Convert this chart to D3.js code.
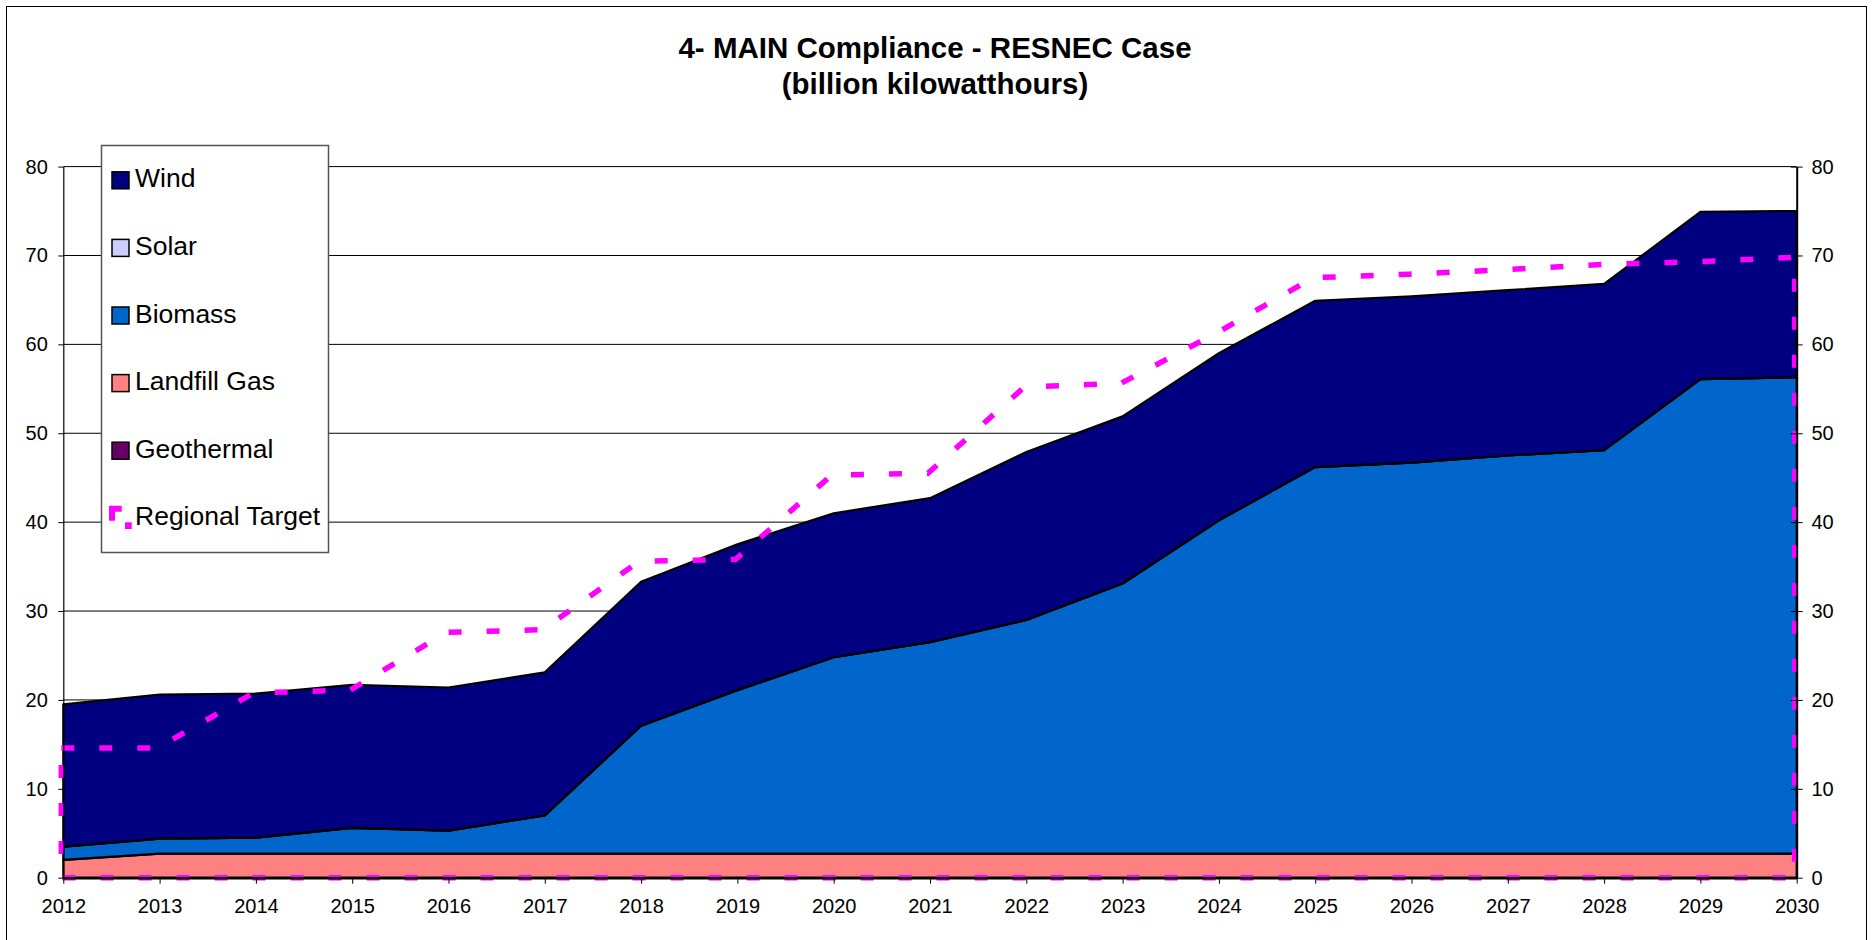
<!DOCTYPE html>
<html>
<head>
<meta charset="utf-8">
<script src="https://cdn.jsdelivr.net/npm/d3@7"></script>
<style>
  body { margin: 0; background: #fff; }
  svg { display: block; font-family: "Liberation Sans", Arial, sans-serif; }
</style>
</head>
<body>
<svg id="chart" width="1872" height="940"></svg>
<script>
// chart data
var years = [2012, 2013, 2014, 2015, 2016, 2017, 2018, 2019, 2020, 2021,
             2022, 2023, 2024, 2025, 2026, 2027, 2028, 2029, 2030];
var geothermal = [0, 0, 0, 0, 0, 0, 0, 0, 0, 0, 0, 0, 0, 0, 0, 0, 0, 0, 0];
var landfillGas = [2.0, 2.7, 2.7, 2.7, 2.7, 2.7, 2.7, 2.7, 2.7, 2.7,
                   2.7, 2.7, 2.7, 2.7, 2.7, 2.7, 2.7, 2.7, 2.7];
var biomass = [1.5, 1.7, 1.8, 2.9, 2.6, 4.3, 14.4, 18.4, 22.1, 23.8,
               26.3, 30.4, 37.5, 43.5, 44.0, 44.8, 45.4, 53.4, 53.6];
var solar = [0, 0, 0, 0, 0, 0, 0, 0, 0, 0, 0, 0, 0, 0, 0, 0, 0, 0, 0];
var wind = [16.0, 16.2, 16.2, 16.1, 16.1, 16.1, 16.2, 16.4, 16.2, 16.2,
            18.9, 18.8, 18.8, 18.7, 18.7, 18.6, 18.7, 18.8, 18.7];
var regionalTarget = [14.6, 14.6, 20.8, 21.1, 27.6, 27.9, 35.6, 35.8, 45.3, 45.5,
                      55.2, 55.6, 61.3, 67.5, 67.9, 68.4, 69.0, 69.3, 69.8];
var yTicks = [0, 10, 20, 30, 40, 50, 60, 70, 80];
var titleLines = ["4- MAIN Compliance - RESNEC Case", "(billion kilowatthours)"];

// stacking order bottom -> top, legend shows it the other way round
var seriesKeys = ["Geothermal", "Landfill Gas", "Biomass", "Solar", "Wind"];
var seriesValues = {
  "Geothermal": geothermal,
  "Landfill Gas": landfillGas,
  "Biomass": biomass,
  "Solar": solar,
  "Wind": wind
};
var colors = {
  "Wind": "#000080",
  "Solar": "#ccccff",
  "Biomass": "#0066cc",
  "Landfill Gas": "#ff8080",
  "Geothermal": "#660066"
};
var targetColor = "#ff00ff";

function draw() {
  var table = years.map(function(yr, i) {
    var row = { year: yr };
    seriesKeys.forEach(function(k) { row[k] = seriesValues[k][i]; });
    return row;
  });

  var svg = d3.select("#chart");

  var plotLeft = 63.3, plotRight = 1796.7, plotTop = 166.6, plotBottom = 877.7;

  var x = d3.scaleLinear().domain([2012, 2030]).range([plotLeft, plotRight]);
  var y = d3.scaleLinear().domain([0, 80]).range([plotBottom, plotTop]);

  // outer frame
  svg.append("rect")
    .attr("x", 0).attr("y", 0).attr("width", 1872).attr("height", 940)
    .attr("fill", "#fff");
  svg.append("rect")
    .attr("x", 6.5).attr("y", 6.5).attr("width", 1860).attr("height", 960)
    .attr("fill", "none").attr("stroke", "#000").attr("stroke-width", 1);

  // gridlines
  svg.append("g")
    .selectAll("line")
    .data(yTicks.filter(function(d) { return d > 0; }))
    .enter().append("line")
    .attr("x1", plotLeft).attr("x2", plotRight)
    .attr("y1", function(d) { return y(d); })
    .attr("y2", function(d) { return y(d); })
    .attr("stroke", "#000").attr("stroke-width", 1);

  // stacked areas
  var stacked = d3.stack().keys(seriesKeys)(table);

  var area = d3.area()
    .x(function(d) { return x(d.data.year); })
    .y0(function(d) { return y(d[0]); })
    .y1(function(d) { return y(d[1]); });

  svg.append("g")
    .selectAll("path")
    .data(stacked)
    .enter().append("path")
    .attr("d", area)
    .attr("fill", function(d) { return colors[d.key]; })
    .attr("stroke", "#000")
    .attr("stroke-width", 2.2)
    .attr("stroke-linejoin", "round");

  // regional target, drawn as an unfilled area with a dashed border
  var targetArea = d3.area()
    .x(function(d, i) { return x(years[i]); })
    .y0(y(0))
    .y1(function(d) { return y(d); });

  svg.append("path")
    .attr("d", targetArea(regionalTarget))
    .attr("fill", "none")
    .attr("stroke", targetColor)
    .attr("stroke-width", 5.5)
    .attr("stroke-dasharray", "13,25")
    .attr("transform", "translate(-2,0)");

  // left axis
  var yAxisL = svg.append("g")
    .attr("transform", "translate(" + plotLeft + ",0)")
    .call(d3.axisLeft(y).tickValues(yTicks).tickSize(5).tickSizeOuter(0));
  yAxisL.select(".domain").attr("stroke", "#000").attr("stroke-width", 1.2);
  yAxisL.selectAll(".tick line").attr("stroke", "#000");
  yAxisL.selectAll("text")
    .attr("x", -15.5)
    .attr("font-size", 20)
    .attr("font-family", "Liberation Sans, Arial, sans-serif")
    .attr("fill", "#000");

  // right axis, ticks cross the line
  var yAxisR = svg.append("g")
    .attr("transform", "translate(" + plotRight + ",0)")
    .call(d3.axisRight(y).tickValues(yTicks).tickSize(6).tickSizeOuter(0));
  yAxisR.select(".domain").attr("stroke", "#000").attr("stroke-width", 2);
  yAxisR.selectAll(".tick line").attr("x1", -6).attr("stroke", "#000");
  yAxisR.selectAll("text")
    .attr("x", 14.7)
    .attr("font-size", 20)
    .attr("font-family", "Liberation Sans, Arial, sans-serif")
    .attr("fill", "#000");

  // bottom axis
  var xAxis = svg.append("g")
    .attr("transform", "translate(0," + plotBottom + ")")
    .call(d3.axisBottom(x).tickValues(years).tickFormat(d3.format("d"))
      .tickSize(6).tickSizeOuter(0));
  xAxis.select(".domain").attr("stroke", "#000").attr("stroke-width", 2.5);
  xAxis.selectAll(".tick line").attr("stroke", "#000");
  xAxis.selectAll("text")
    .attr("y", 35)
    .attr("dy", 0)
    .attr("font-size", 20)
    .attr("font-family", "Liberation Sans, Arial, sans-serif")
    .attr("fill", "#000");

  // legend
  var legendItems = ["Wind", "Solar", "Biomass", "Landfill Gas", "Geothermal", "Regional Target"];
  var legend = svg.append("g");
  legend.append("rect")
    .attr("x", 101.5).attr("y", 145.5).attr("width", 227).attr("height", 407)
    .attr("fill", "#fff").attr("stroke", "#555").attr("stroke-width", 1.5);

  var item = legend.selectAll("g.item")
    .data(legendItems)
    .enter().append("g")
    .attr("class", "item")
    .attr("transform", function(d, i) { return "translate(0," + (180.3 + i * 67.6) + ")"; });

  item.filter(function(d) { return d !== "Regional Target"; })
    .append("rect")
    .attr("x", 112).attr("y", -8.5).attr("width", 17).attr("height", 17)
    .attr("fill", function(d) { return colors[d]; })
    .attr("stroke", "#000").attr("stroke-width", 1.5);

  var tItem = item.filter(function(d) { return d === "Regional Target"; });
  tItem.append("path")
    .attr("d", "M112,2.5V-9.5H121.7")
    .attr("fill", "none").attr("stroke", targetColor).attr("stroke-width", 6);
  tItem.append("rect")
    .attr("x", 125).attr("y", 4).attr("width", 6.7).attr("height", 6.7)
    .attr("fill", targetColor);

  item.append("text")
    .attr("x", 135).attr("y", 7)
    .attr("font-size", 26.5)
    .attr("fill", "#000")
    .text(function(d) { return d; });

  // title
  svg.append("g")
    .selectAll("text")
    .data(titleLines)
    .enter().append("text")
    .attr("x", 935)
    .attr("y", function(d, i) { return 58 + i * 36; })
    .attr("text-anchor", "middle")
    .attr("font-size", 29.5)
    .attr("font-weight", "bold")
    .attr("fill", "#000")
    .text(function(d) { return d; });
}

draw();
</script>
</body>
</html>
